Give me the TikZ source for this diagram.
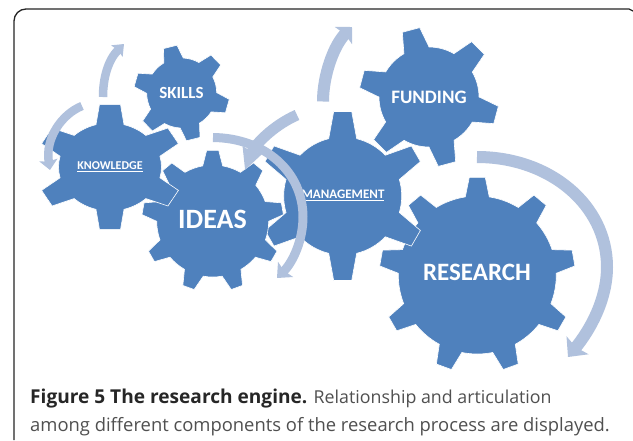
\documentclass[tikz,border=0pt]{standalone}
\usepackage{fontspec}
\setmainfont{Carlito}
\newfontfamily\capfont{Open Sans}
\usetikzlibrary{arrows.meta}
\definecolor{gearblue}{HTML}{4F81BD}
\definecolor{flowblue}{HTML}{B0C1DD}
\definecolor{captext}{HTML}{505050}
\definecolor{capbold}{HTML}{262626}
\tikzset{
  gearbody/.style={fill=gearblue,draw=white,line width=0.6pt,line join=miter},
  gearlabel/.style={text=white,font=\bfseries,inner sep=0pt},
  flow/.style={draw=flowblue,line width=#1,line cap=butt},
  framebox/.style={draw=black!85,line width=1.3pt},
  capline/.style={anchor=base west,inner sep=0pt,text=captext,font=\capfont\fontsize{18.4}{22}\selectfont}
}
% cx cy xscale teeth startangle bodyR outerR basehalf tiphalf
\newcommand{\gearshape}[9]{%
  \begin{scope}[shift={(#1,#2)},xscale=#3]
    \pgfmathsetmacro\gearB{asin(#8/#6)}
    \pgfmathsetmacro\gearT{asin(#9/#7)}
    \pgfmathsetmacro\gearS{360/#4}
    \pgfmathtruncatemacro\gearN{#4-1}
    \path[gearbody] (#5-\gearB:#6)
      \foreach \i in {0,...,\gearN} {
        -- (#5+\i*\gearS-\gearT:#7) -- (#5+\i*\gearS+\gearT:#7) -- (#5+\i*\gearS+\gearB:#6)
        arc[start angle=#5+\i*\gearS+\gearB, end angle=#5+\i*\gearS+\gearS-\gearB, radius=#6pt]
      } -- cycle;
  \end{scope}}
\begin{document}
\begin{tikzpicture}[x=1pt,y=1pt,yscale=-1]
\useasboundingbox (0,0) rectangle (633,440);
\fill[white] (0,0) rectangle (633,440);
\draw[framebox] (14,440) -- (14,21) arc[start angle=180,end angle=270,radius=12pt] -- (629,9) -- (633,11);

\gearshape{477.3}{275}{1}{9}{-90}{79}{98}{12}{8}
\gearshape{429}{97}{1}{6}{-105}{50}{70}{13}{9}
\gearshape{342.7}{196}{1}{6}{-90}{59}{85}{14}{9}
\gearshape{212.7}{221}{1}{9}{-90}{56}{71}{10}{6}
\gearshape{181.7}{93}{1}{6}{-104}{35}{48}{10}{7}
\gearshape{110}{167}{1.17}{6}{-90}{44}{63}{12}{9}

\node[gearlabel,font=\bfseries\fontsize{17}{20}\selectfont] (skills) at (181.5,93) {SKILLS};
\node[gearlabel,font=\bfseries\fontsize{19}{22}\selectfont] (funding) at (429,97) {FUNDING};
\node[gearlabel,font=\bfseries\fontsize{12}{14}\selectfont] (knowledge) at (110,167) {\underline{KNOWLEDGE}};
\node[gearlabel,font=\bfseries\fontsize{28}{32}\selectfont] (ideas) at (212.5,219) {IDEAS};
\node[gearlabel,font=\bfseries\fontsize{13}{15}\selectfont] (management) at (343,195) {\underline{MANAGEMENT}};
\node[gearlabel,font=\bfseries\fontsize{25}{30}\selectfont] (research) at (477,272) {RESEARCH};

\coordinate (k1) at (103,97); \coordinate (k1t) at (124,44);
\coordinate (k2) at (82,106); \coordinate (k2t) at (50,170);
\coordinate (i1) at (213,137.5); \coordinate (i1m) at (303,217); \coordinate (i1t) at (277,278);
\coordinate (m1) at (297,115); \coordinate (m1t) at (245,170);
\coordinate (m2) at (323,101.5); \coordinate (m2t) at (352,27);
\coordinate (r1) at (477,157); \coordinate (r1m) at (607,267); \coordinate (r1t) at (568,357);

\draw[flow=8.5pt,-{Stealth[length=10pt,width=16pt,inset=1.5pt]}] (k1) .. controls (103,78) and (108,60) .. (k1t);
\draw[flow=8.5pt,-{Stealth[length=10pt,width=18pt,inset=1.5pt]}] (k2) .. controls (62,114) and (45,138) .. (k2t);
\draw[flow=11pt,-{Stealth[length=21pt,width=20pt,inset=1.5pt]}] (m1) .. controls (272,126) and (254,146) .. (m1t);
\draw[flow=9pt] (i1) .. controls (265,138) and (303,172) .. (i1m);
\draw[flow=9pt,-{Stealth[length=12pt,width=21pt,inset=2pt]}] (i1m) .. controls (303,240) and (293,262) .. (i1t);
\draw[flow=12pt,-{Stealth[length=12pt,width=24pt,inset=2pt]}] (m2) .. controls (323,75) and (334,45) .. (m2t);
\draw[flow=12pt] (r1) .. controls (550,157) and (607,205) .. (r1m);
\draw[flow=12pt,-{Stealth[length=15pt,width=28pt,inset=2.5pt]}] (r1m) .. controls (607,300) and (590,330) .. (r1t);

\node[capline] (cap1) at (30,403) {{\color{capbold}\bfseries\fontsize{19.1}{22}\selectfont Figure 5 The research engine.} {\fontsize{17.8}{22}\selectfont Relationship and articulation}};
\node[capline] (cap2) at (30,431) {among different components of the research process are displayed.};
\end{tikzpicture}
\end{document}
